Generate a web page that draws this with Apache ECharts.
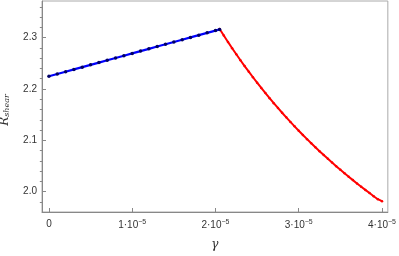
<!DOCTYPE html>
<html>
<head>
<meta charset="utf-8">
<script src="https://cdn.jsdelivr.net/npm/echarts@6/dist/echarts.min.js"></script>
<style>
html,body{margin:0;padding:0;background:#fff;}
#c{width:399px;height:256px;}
</style>
</head>
<body>
<div id="c"></div>
<script>
// x values in units of 1e-5
const blueX = [0,0.1,0.2,0.3,0.4,0.5,0.6,0.7,0.8,0.9,1.0,1.1,1.2,1.3,1.4,1.5,1.6,1.7,1.8,1.9,2.0,2.05];
const blueY = [2.2247,2.2292,2.2336,2.2381,2.2425,2.2470,2.2514,2.2559,2.2603,2.2648,2.2692,2.2737,2.2781,2.2826,2.2870,2.2915,2.2959,2.3004,2.3048,2.3093,2.3137,2.3160];
const redX = [2.05,2.10,2.15,2.20,2.25,2.30,2.35,2.40,2.45,2.50,2.55,2.60,2.65,2.70,2.75,2.80,2.85,2.90,2.95,3.00,3.05,3.10,3.15,3.20,3.25,3.30,3.35,3.40,3.45,3.50,3.55,3.60,3.65,3.70,3.75,3.80,3.85,3.90,3.95,4.00];
const redY = [2.3168,2.3040,2.2916,2.2794,2.2675,2.2559,2.2446,2.2336,2.2228,2.2122,2.2019,2.1919,2.1820,2.1724,2.1630,2.1537,2.1447,2.1359,2.1272,2.1187,2.1104,2.1023,2.0943,2.0865,2.0788,2.0713,2.0639,2.0567,2.0496,2.0426,2.0358,2.0291,2.0225,2.0160,2.0096,2.0034,1.9973,1.9912,1.9853,1.9815];
const xTicks = [0,1,2,3,4];
const xTickLabels = ['0','1·10','2·10','3·10','4·10'];
const xTickExp = '−5';
const yTicks = [2.0,2.1,2.2,2.3];
const yTickLabels = ['2.0','2.1','2.2','2.3'];
const yMinorTicks = [1.98,2.02,2.04,2.06,2.08,2.12,2.14,2.16,2.18,2.22,2.24,2.26,2.28,2.32,2.34,2.36];

const W = 399, GL = 42, GR = 9;
const chart = echarts.init(document.getElementById('c'), null, {renderer:'canvas'});
const toPairs = (xs, ys) => xs.map((x,i)=>[x, ys[i]]);
const YMIN = 1.9604, YMAX = 2.3713, XMIN = -0.0835, XMAX = 4.07;
const lblColor = '#333';
const axisCol = '#888';

chart.setOption({
  animation:false,
  grid:{left:GL,right:GR,top:1,bottom:41,show:true,borderColor:'#aaa',borderWidth:1,containLabel:false},
  xAxis:{
    type:'value', min:XMIN, max:XMAX,
    axisLine:{show:true,onZero:false,lineStyle:{color:axisCol,width:1}},
    axisTick:{show:true,inside:true,length:4,customValues:xTicks,lineStyle:{color:axisCol}},
    axisLabel:{
      customValues:xTicks, margin:7, color:lblColor, fontFamily:'Liberation Sans', fontSize:10,
      formatter:function(v){
        const i = xTicks.indexOf(Math.round(v));
        if(i<0) return '';
        if(i===0) return '{a|0}';
        return '{a|'+xTickLabels[i]+'}{s|'+xTickExp+'}';
      },
      rich:{
        a:{fontSize:10,color:lblColor,fontFamily:'Liberation Sans'},
        s:{fontSize:7,color:lblColor,fontFamily:'Liberation Sans',verticalAlign:'top',padding:[0,0,6,0]}
      }
    },
    splitLine:{show:false},
    name:'γ', nameLocation:'middle', nameGap:27,
    nameTextStyle:{fontFamily:'DejaVu Serif',fontStyle:'italic',fontSize:12,color:'#333'}
  },
  yAxis:[{
    type:'value', min:YMIN, max:YMAX, position:'left', offset:0,
    axisLine:{show:true,onZero:false,lineStyle:{color:axisCol,width:1}},
    axisTick:{show:true,inside:true,length:4,customValues:yTicks,lineStyle:{color:axisCol,width:1}},
    axisLabel:{customValues:yTicks,margin:5,color:lblColor,fontFamily:'Liberation Sans',fontSize:10,
      formatter:function(v){const i=yTicks.findIndex(t=>Math.abs(t-v)<1e-6);return i<0?'':yTickLabels[i];}},
    splitLine:{show:false}
  },{
    type:'value', min:YMIN, max:YMAX, position:'right', offset:-(W-GL-GR),
    axisLine:{show:false,onZero:false},
    axisTick:{show:true,inside:false,length:2.5,customValues:yMinorTicks,lineStyle:{color:axisCol,width:1}},
    axisLabel:{show:false},
    splitLine:{show:false}
  }],
  graphic:[{
    type:'text', x:5, y:110, rotation:Math.PI/2, 
    style:{
      text:'{r|R}{s|shear}', align:'center', verticalAlign:'middle',
      rich:{
        r:{fontFamily:'DejaVu Serif',fontStyle:'italic',fontSize:12,fill:'#333'},
        s:{fontFamily:'DejaVu Serif',fontStyle:'italic',fontSize:8,fill:'#333',verticalAlign:'bottom',padding:[4,0,0,0]}
      }
    }
  }],
  series:[{
    type:'line', data:toPairs(redX, redY), yAxisIndex:0,
    lineStyle:{color:'#ff0000',width:2},
    symbol:'circle', symbolSize:2.5, showSymbol:true,
    itemStyle:{color:'#ff0000'}, z:2
  },{
    type:'line', data:toPairs(blueX, blueY), yAxisIndex:0,
    lineStyle:{color:'#0000ff',width:2.2},
    symbol:'circle', symbolSize:3.5, showSymbol:true,
    itemStyle:{color:'#000066'}, z:3
  }]
});
</script>
</body>
</html>
